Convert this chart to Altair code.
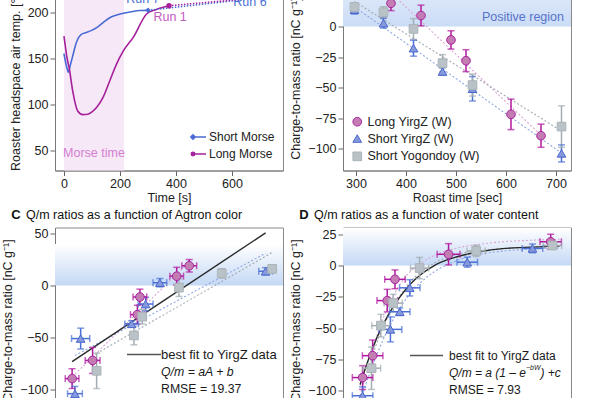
import altair as alt
import pandas as pd

FONT = "Liberation Sans"
BLUE = "#4a6bd4"
MAG = "#a6209c"

# ---------------- Panel A: roaster headspace temperature ----------------
short_t = [0, 8, 16, 22, 30, 44, 62, 80, 97, 121, 145, 170, 200, 240, 271, 300]
short_v = [155, 143, 135, 142, 151, 167, 176, 178, 180, 184, 190, 195, 198, 200.5, 201.8, 202]
long_t = [0, 5, 10, 19, 31, 49, 67, 85, 100, 117, 140, 164, 188, 212, 248, 295, 330, 375]
long_v = [174, 163, 152, 139, 115, 93, 89, 89.5, 92, 97, 108, 126, 144, 158, 173, 198, 203, 207]
short_run_t = [300, 713]
short_run_v = [202, 216]
long_run_t = [375, 670]
long_run_v = [207, 215]
runs = ["Short Morse", "Long Morse"]
run_colors = [BLUE, MAG]
marker_t = [300, 375]
marker_v = [202, 207]
marker_shape = ["diamond", "circle"]
run_label = ["Run 7", "Run 6", "Run 1"]
run_label_t = [282, 664, 379]
run_label_v = [214, 210.5, 194.8]
run_label_col = ["#4a6fd6", "#4a6fd6", "#c25cbf"]
morse_window = [0, 214]

# ---------------- Panels B-D: charge-to-mass ratios ----------------
series = ["Long YirgZ (W)", "Short YirgZ (W)", "Short Yogondoy (W)"]
roast_long = [370, 430, 490, 520, 610, 670]
roast_short = [297, 355, 415, 473, 533, 711]
q_long = [19, 9, -11, -28, -72, -89.5]
q_syirg = [13.7, 2.7, -17.8, -36.9, -51, -104]
q_yog = [16, 11.7, -2, -30, -48, -82]
qerr_long = [6, 8.5, 7.5, 9, 12.5, 9.5]
qerr_syirg = [3.5, 4, 6.5, 3, 10, 7]
qerr_yog = [3, 4.5, 8.5, 7, 9, 17]
agtron_long = [67.1, 62.7, 49.8, 48.9, 33.2, 26.0]
agtron_syirg = [93.9, 56.8, 51.8, 46.9, 29.0, 27.0]
agtron_yog = [96.2, 78.5, 63.5, 50.6, 47.7, 34.6]
agerr_long = [2.6, 2.4, 2.4, 2.4, 2.6, 2.4]
agerr_syirg = [2.4, 2.4, 2.6, 2.4, 3.2, 2.6]
agerr_yog = [0, 0, 0, 0, 0, 0]
water_long = [9.11, 4.63, 2.28, 1.94, 1.30, 0.86]
water_syirg = [8.31, 5.45, 2.93, 2.49, 2.08, 0.86]
water_yog = [9.19, 5.84, 3.36, 2.20, 1.66, 1.25]
werr_long = [0.47, 0.5, 0.45, 0.45, 0.45, 0.45]
werr_syirg = [0.45, 0.45, 0.45, 0.45, 0.5, 0.45]
werr_yog = [0.4, 0.4, 0.4, 0.4, 0.4, 0.4]

fit_water = [0.75, 1.0, 1.3, 1.6, 2.0, 2.5, 3.0, 3.5, 4.0, 5.0, 6.0, 7.0, 8.0, 9.5]
fit_q_all = [-95, -81, -66, -53, -39, -25, -14, -6, 0, 7, 11, 13.5, 14.5, 15.5]
fit_q_long = [-96, -82, -67, -50, -32, -15, -4, 3, 8, 14, 17, 19, 20, 21]
fit_q_syirg = [-110, -95, -80, -66, -50, -34, -21, -12, -5, 4, 9, 11.5, 13, 14]
fit_q_yog = [-104, -88, -72, -56, -40, -24, -12, -4, 2, 9, 12, 13.5, 14.5, 15]

fills = ["#c47db3", "#8799dd", "#b9c3c7"]
strokes = ["#a8239f", "#4a67cc", "#aab3b8"]
err_cols = ["#b0189f", "#4a6fd6", "#a3acb1"]
reg_cols = ["#d9a5d3", "#8ea6e3", "#a2aab2"]
shapes = ["circle", "triangle-up", "square"]

W, H = 228, 185
QTITLE = "Charge-to-mass ratio [nC g\u207b\u00b9]"

# ---------- build tables ----------
rows = []
groups = [
    (roast_long, q_long, qerr_long, agtron_long, agerr_long, water_long, werr_long),
    (roast_short, q_syirg, qerr_syirg, agtron_syirg, agerr_syirg, water_syirg, werr_syirg),
    (roast_short, q_yog, qerr_yog, agtron_yog, agerr_yog, water_yog, werr_yog),
]
for i, (rt, qq, qe, ag, ae, wa, we) in enumerate(groups):
    for j in range(len(qq)):
        rows.append(dict(series=series[i], roast=rt[j], q=qq[j], q_lo=qq[j] - qe[j], q_hi=qq[j] + qe[j],
                         agtron=ag[j], a_lo=ag[j] - ae[j], a_hi=ag[j] + ae[j], aerr=ae[j],
                         water=wa[j], w_lo=wa[j] - we[j], w_hi=wa[j] + we[j],
                         fill=fills[i], stroke=strokes[i], ecol=err_cols[i], lcol=reg_cols[i]))
pts = pd.DataFrame(rows)

fit_rows = []
for name, qs, col, dash in [("all", fit_q_all, "#262626", 0), (series[0], fit_q_long, reg_cols[0], 1),
                            (series[1], fit_q_syirg, reg_cols[1], 1), (series[2], fit_q_yog, reg_cols[2], 1)]:
    for wv, qv in zip(fit_water, qs):
        fit_rows.append(dict(fit=name, water=wv, q=qv, lcol=col, dashed=dash))
fits = pd.DataFrame(fit_rows)

one = pd.DataFrame({"k": [0]})


def qx(field, domain, values, title, show=True):
    return alt.X(f"{field}:Q", scale=alt.Scale(domain=domain, nice=False, zero=False),
                 axis=alt.Axis(values=values, title=title) if show else None)


def qy(field, domain, values, title):
    return alt.Y(f"{field}:Q", scale=alt.Scale(domain=domain, nice=False, zero=False),
                 axis=alt.Axis(values=values, title=title))


def grad(bottom, top):
    return alt.Gradient(gradient="linear", x1=0, x2=0, y1=1, y2=0,
                        stops=[alt.GradientStop(color=bottom, offset=0),
                               alt.GradientStop(color=top, offset=1)])


# ---------------- Panel A ----------------
AX = lambda f: qx(f, [-32, 782], [0, 200, 400, 600], "Time [s]")
AY = lambda f: qy(f, [28.5, 228.9], [50, 100, 150, 200], "Roaster headspace air temp. [\u00b0C]")

lines_df = pd.concat([
    pd.DataFrame({"run": runs[0], "t": short_t, "v": short_v, "col": run_colors[0]}),
    pd.DataFrame({"run": runs[1], "t": long_t, "v": long_v, "col": run_colors[1]}),
])
runs_df = pd.concat([
    pd.DataFrame({"run": runs[0], "t": short_run_t, "v": short_run_v, "col": run_colors[0]}),
    pd.DataFrame({"run": runs[1], "t": long_run_t, "v": long_run_v, "col": run_colors[1]}),
])
mark_df = pd.DataFrame({"run": runs, "t": marker_t, "v": marker_v, "col": run_colors, "shape": marker_shape})
lab_df = pd.DataFrame({"label": run_label, "t": run_label_t, "v": run_label_v, "col": run_label_col})

# legend symbols: small marker at the left end of a short line
leg_paths = ["M-1,0L1,0M-1,-0.36L-0.64,0L-1,0.36L-1.36,0Z",
             "M-1,0L1,0M-0.72,0A0.28,0.28,0,1,1,-1.28,0A0.28,0.28,0,1,1,-0.72,0Z"]
legA = dict(orient="none", legendX=137, legendY=144, title=None, labelFontSize=12, symbolSize=169,
            rowPadding=3, labelOffset=2, padding=0, symbolStrokeWidth=1.3)

a_band = alt.Chart(pd.DataFrame({"t0": [morse_window[0]], "t1": [morse_window[1]]})).mark_rect(
    color="#f7e8f7").encode(x=AX("t0"), x2="t1:Q")
a_band_txt = alt.Chart(pd.DataFrame({"t": [107], "v": [47], "label": ["Morse time"]})).mark_text(
    color="#d27fd0", fontSize=12.5, font=FONT).encode(x=AX("t"), y=AY("v"), text="label:N")
a_lines = alt.Chart(lines_df).mark_line(strokeWidth=1.6, interpolate="monotone").encode(
    x=AX("t"), y=AY("v"), detail="run:N", color=alt.Color("col:N", scale=None), order="t:Q")
a_runs = alt.Chart(runs_df).mark_line(strokeWidth=1.5, strokeDash=[1.5, 1.5]).encode(
    x=AX("t"), y=AY("v"), detail="run:N", color=alt.Color("col:N", scale=None))
a_marks = alt.Chart(mark_df).mark_point(filled=True, size=30, opacity=1).encode(
    x=AX("t"), y=AY("v"), color=alt.Color("col:N", scale=None), shape=alt.Shape("shape:N", scale=None))
a_legend = alt.Chart(mark_df).transform_filter("false").mark_point(filled=True, opacity=1).encode(
    x=AX("t"), y=AY("v"),
    fill=alt.Fill("run:N", scale=alt.Scale(domain=runs, range=run_colors), legend=alt.Legend(**legA)),
    stroke=alt.Stroke("run:N", scale=alt.Scale(domain=runs, range=run_colors), legend=alt.Legend(**legA)),
    shape=alt.Shape("run:N", scale=alt.Scale(domain=runs, range=leg_paths), legend=alt.Legend(**legA)))
a_labels = alt.Chart(lab_df).mark_text(fontSize=12.5, font=FONT).encode(
    x=AX("t"), y=AY("v"), text="label:N", color=alt.Color("col:N", scale=None))
panelA = alt.layer(a_band, a_band_txt, a_lines, a_runs, a_marks, a_legend, a_labels).properties(width=W, height=H)

# ---------------- Panel B ----------------
BX = lambda f: qx(f, [274, 730], [300, 400, 500, 600, 700], "Roast time [sec]")
BY = lambda f: qy(f, [-118, 33.6], [-100, -75, -50, -25, 0, 25], QTITLE)
legB = dict(orient="none", legendX=8, legendY=130, title=None, labelFontSize=12.5, symbolSize=75,
            rowPadding=3.8, labelOffset=4, padding=0, symbolStrokeWidth=1)

b_band = alt.Chart(pd.DataFrame({"lo": [0], "hi": [33.6]})).mark_rect(
    color=grad("#cadcf6", "#e3ecfa")).encode(y=BY("lo"), y2="hi:Q")
b_txt = alt.Chart(one).mark_text(text="Positive region", align="right", baseline="middle",
                                 color="#5673c9", fontSize=12.5, font=FONT).encode(
    x=alt.value(221), y=alt.value(31.7))
b_reg = alt.Chart(pts).transform_regression("roast", "q", groupby=["series", "lcol"]).mark_line(
    strokeDash=[2, 2], strokeWidth=1.1).encode(x=BX("roast"), y=BY("q"), color=alt.Color("lcol:N", scale=None))
b_err = alt.Chart(pts).mark_rule(strokeWidth=1.5).encode(
    x=BX("roast"), y=BY("q_lo"), y2="q_hi:Q", color=alt.Color("ecol:N", scale=None))
b_tlo = alt.Chart(pts).mark_tick(orient="horizontal", size=7, thickness=1.5).encode(
    x=BX("roast"), y=BY("q_lo"), color=alt.Color("ecol:N", scale=None))
b_thi = alt.Chart(pts).mark_tick(orient="horizontal", size=7, thickness=1.5).encode(
    x=BX("roast"), y=BY("q_hi"), color=alt.Color("ecol:N", scale=None))
b_pts = alt.Chart(pts).mark_point(filled=True, size=75, opacity=1, strokeWidth=1).encode(
    x=BX("roast"), y=BY("q"),
    fill=alt.Fill("series:N", scale=alt.Scale(domain=series, range=fills), legend=alt.Legend(**legB)),
    stroke=alt.Stroke("series:N", scale=alt.Scale(domain=series, range=strokes), legend=alt.Legend(**legB)),
    shape=alt.Shape("series:N", scale=alt.Scale(domain=series, range=shapes), legend=alt.Legend(**legB)))
panelB = alt.layer(b_band, b_txt, b_reg, b_err, b_tlo, b_thi, b_pts).properties(width=W, height=H)


def q_panel(xf, xlo, xhi, xdom, ydom, yvals, band_top, band_col, fit_layers, letter, title,
            ann_lines, ann_x, ann_line, ann_y):
    X = lambda f: qx(f, xdom, None, None, show=False)
    Y = lambda f: qy(f, ydom, yvals, QTITLE)
    band = alt.Chart(pd.DataFrame({"lo": [0], "hi": [band_top]})).mark_rect(
        color=grad(band_col, "#ffffff")).encode(y=Y("lo"), y2="hi:Q")
    err = alt.Chart(pts).mark_rule(strokeWidth=1.5).encode(
        x=X(xf), y=Y("q_lo"), y2="q_hi:Q", color=alt.Color("ecol:N", scale=None))
    tlo = alt.Chart(pts).mark_tick(orient="horizontal", size=7, thickness=1.5).encode(
        x=X(xf), y=Y("q_lo"), color=alt.Color("ecol:N", scale=None))
    thi = alt.Chart(pts).mark_tick(orient="horizontal", size=7, thickness=1.5).encode(
        x=X(xf), y=Y("q_hi"), color=alt.Color("ecol:N", scale=None))
    base_h = alt.Chart(pts)
    if xf == "agtron":
        base_h = base_h.transform_filter("datum.aerr > 0")
    herr = base_h.mark_rule(strokeWidth=1.5).encode(
        x=X(xlo), x2=f"{xhi}:Q", y=Y("q"), color=alt.Color("ecol:N", scale=None))
    hlo = base_h.mark_tick(orient="vertical", size=7, thickness=1.5).encode(
        x=X(xlo), y=Y("q"), color=alt.Color("ecol:N", scale=None))
    hhi = base_h.mark_tick(orient="vertical", size=7, thickness=1.5).encode(
        x=X(xhi), y=Y("q"), color=alt.Color("ecol:N", scale=None))
    points = alt.Chart(pts).mark_point(filled=True, size=75, opacity=1, strokeWidth=1).encode(
        x=X(xf), y=Y("q"), fill=alt.Fill("fill:N", scale=None), stroke=alt.Stroke("stroke:N", scale=None),
        shape=alt.Shape("series:N", scale=alt.Scale(domain=series, range=shapes), legend=None))
    fl = fit_layers(X, Y)
    ann_rule = alt.Chart(one).mark_rule(color="#555555", strokeWidth=1.5).encode(
        x=alt.value(ann_line[0]), x2=alt.value(ann_line[1]), y=alt.value(ann_y))
    ann = []
    for k, (txt, italic, fs) in enumerate(ann_lines):
        if not txt:
            continue
        ann.append(alt.Chart(one).mark_text(text=txt, align="left", baseline="middle", fontSize=fs, font=FONT,
                                            fontStyle="italic" if italic else "normal", color="#1a1a1a").encode(
            x=alt.value(ann_x), y=alt.value(ann_y + 17.3 * k)))
    t_letter = alt.Chart(one).mark_text(text=letter, align="center", baseline="alphabetic", fontSize=13,
                                        fontWeight="bold", font=FONT, color="#111").encode(
        x=alt.value(-39), y=alt.value(-9))
    t_main = alt.Chart(one).mark_text(text=title, align="left", baseline="alphabetic", fontSize=12.5,
                                      font=FONT, color="#111").encode(x=alt.value(-29), y=alt.value(-9))
    layers = [band] + fl + [err, tlo, thi, herr, hlo, hhi, points, ann_rule] + ann + [t_letter, t_main]
    return alt.layer(*layers).properties(width=W, height=H)


def fits_C(X, Y):
    reg = alt.Chart(pts).transform_regression("agtron", "q", groupby=["series", "lcol"]).mark_line(
        strokeDash=[2, 2], strokeWidth=1.1).encode(x=X("agtron"), y=Y("q"), color=alt.Color("lcol:N", scale=None))
    best = alt.Chart(pts).transform_filter(
        alt.FieldOneOfPredicate(field="series", oneOf=[series[0], series[1]])
    ).transform_regression("agtron", "q").mark_line(color="#2a2a2a", strokeWidth=1.4).encode(
        x=X("agtron"), y=Y("q"))
    return [reg, best]


def fits_D(X, Y):
    dashed = alt.Chart(fits).transform_filter("datum.dashed == 1").mark_line(
        strokeDash=[2, 2], strokeWidth=1.1, interpolate="monotone").encode(
        x=X("water"), y=Y("q"), detail="fit:N", color=alt.Color("lcol:N", scale=None), order="water:Q")
    best = alt.Chart(fits).transform_filter("datum.dashed == 0").mark_line(
        color="#262626", strokeWidth=1.4, interpolate="monotone").encode(x=X("water"), y=Y("q"), order="water:Q")
    return [dashed, best]


panelC = q_panel("agtron", "a_lo", "a_hi", [20, 100], [-122.1, 55.8], [-100, -50, 0, 50], 40, "#c4d8f5",
                 fits_C, "C", "Q/m ratios as a function of Agtron color",
                 [("best fit to YirgZ data", False, 13), ("Q/m = aA + b", True, 12.3),
                  ("RMSE = 19.37", False, 12.3)],
                 106, (72, 106), 127)

panelD_base = q_panel("water", "w_lo", "w_hi", [0, 10], [-117.4, 30.4], [-100, -75, -50, -25, 0, 25], 30,
                      "#c4d8f5", fits_D, "D", "Q/m ratios as a function of water content",
                      [("best fit to YirgZ data", False, 12), ("", True, 12), ("RMSE = 7.93", False, 12)],
                      106, (67, 100), 128)
eq1 = alt.Chart(one).mark_text(text="Q/m = a (1 \u2013 e", align="left", baseline="middle", fontSize=12,
                               font=FONT, fontStyle="italic", color="#1a1a1a").encode(
    x=alt.value(106), y=alt.value(145.3))
eq2 = alt.Chart(one).mark_text(text="\u2212bW", align="left", baseline="middle", fontSize=7,
                               font=FONT, fontStyle="italic", color="#1a1a1a").encode(
    x=alt.value(183), y=alt.value(140))
eq3 = alt.Chart(one).mark_text(text=") +c", align="left", baseline="middle", fontSize=12,
                               font=FONT, fontStyle="italic", color="#1a1a1a").encode(
    x=alt.value(197.5), y=alt.value(145.3))
panelD = alt.layer(panelD_base, eq1, eq2, eq3)

chart = alt.concat(
    panelA, panelB, panelC, panelD, columns=2, spacing={"row": 57, "column": 60}, bounds="flush",
    padding={"left": 1, "top": -15.5, "right": 5, "bottom": -16}
).resolve_scale(
    fill="independent", stroke="independent", shape="independent", color="independent"
).configure(font=FONT, background="white").configure_view(
    stroke="#8a8a8a", strokeWidth=1
).configure_axis(
    labelFont=FONT, titleFont=FONT, labelFontSize=12.5, titleFontSize=12.5, titleFontWeight="normal",
    labelColor="#222222", titleColor="#222222", tickColor="#666666", domainColor="#7a7a7a",
    tickSize=5, labelPadding=2, grid=False
).configure_axisY(titlePadding=5).configure_axisX(titlePadding=1).configure_legend(
    labelFont=FONT, labelColor="#222222")

chart.save("out.html", embed_options={"renderer": "svg", "actions": False})
